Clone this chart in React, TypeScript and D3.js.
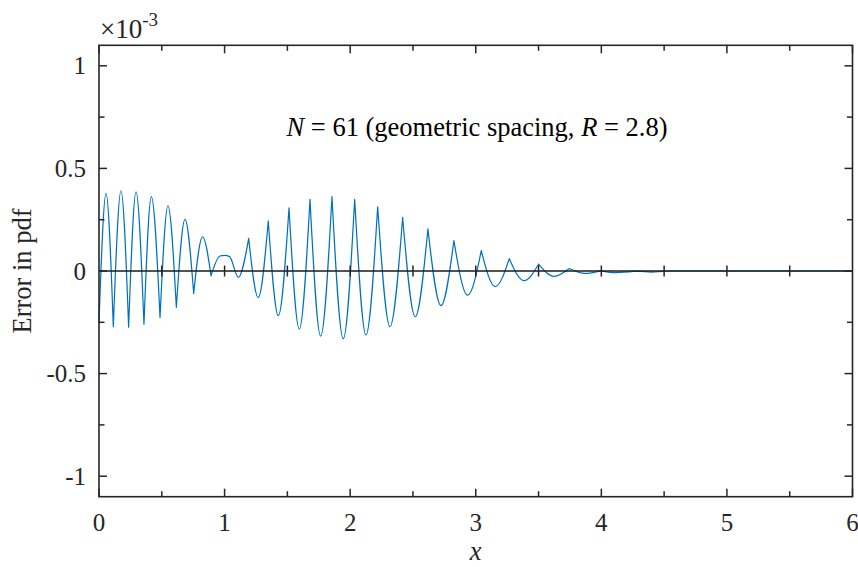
import React from 'react';
import * as d3 from 'd3';

// Axis ticks
const xTicks = [0, 1, 2, 3, 4, 5, 6];
const xMinorTicks = [0.5, 1.5, 2.5, 3.5, 4.5, 5.5];
const yTicks = [-1, -0.5, 0, 0.5, 1];
const yTickLabels = ['-1', '-0.5', '0', '0.5', '1'];
const yMinorTicks = [-0.75, -0.25, 0.25, 0.75];
const zeroLineTicks = [0.5, 1, 1.5, 2, 2.5, 3, 3.5, 4, 4.5, 5, 5.5];

// Error in pdf (units of 1e-3), extrema of the oscillation in order
const errX = [
  0, 0.056, 0.114, 0.175, 0.236, 0.295, 0.358, 0.417, 0.486, 0.549, 0.616,
  0.685, 0.754, 0.825, 0.892, 0.963, 1.0, 1.04, 1.109, 1.192, 1.268, 1.348,
  1.428, 1.513, 1.595, 1.68, 1.765, 1.855, 1.945, 2.036, 2.126, 2.219, 2.317,
  2.418, 2.518, 2.619, 2.723, 2.826, 2.935, 3.044, 3.155, 3.267, 3.384, 3.5,
  3.623, 3.745, 3.869, 3.99, 4.12, 4.27, 4.4, 4.53, 6,
];
const errY = [
  -0.25, 0.378, -0.271, 0.391, -0.274, 0.386, -0.26, 0.362, -0.227, 0.318,
  -0.177, 0.252, -0.109, 0.167, -0.024, 0.073, 0.076, 0.07, -0.031, 0.159,
  -0.13, 0.244, -0.218, 0.308, -0.283, 0.349, -0.317, 0.362, -0.33, 0.349,
  -0.312, 0.313, -0.271, 0.261, -0.223, 0.205, -0.169, 0.148, -0.118, 0.099,
  -0.076, 0.06, -0.047, 0.033, -0.026, 0.012, -0.012, 0.001, -0.008, -0.001,
  -0.005, 0, 0,
];
// Points where the error curve has a corner (kinks of the piecewise interpolant)
const cornerX = [
  0.114, 0.236, 0.358, 0.486, 0.616, 0.754, 0.892, 1.192, 1.348, 1.513, 1.68,
  1.855, 2.036, 2.219, 2.418, 2.619, 2.826, 3.044, 3.267, 3.5, 3.745, 3.99,
  4.27, 4.53,
];

const W = 858;
const H = 567;
const left = 99;
const right = 852.5;
const top = 45.3;
const bottom = 496.7;
const axisColor = '#262626';
const lineColor = '#0072BD';
const font = "'Liberation Serif', 'Times New Roman', Times, serif";

export default function App() {
  const x = d3.scaleLinear().domain([0, 6]).range([left, right]);
  const y = d3.scaleLinear().domain([-1.1, 1.1]).range([bottom, top]);

  // split the series into smooth arcs joined at the corners
  const pts: [number, number][] = errX.map((v, i) => [v, errY[i]]);
  const arcs: [number, number][][] = [];
  let cur: [number, number][] = [];
  pts.forEach((p) => {
    cur.push(p);
    if (cornerX.includes(p[0])) {
      arcs.push(cur);
      cur = [p];
    }
  });
  if (cur.length > 1) arcs.push(cur);

  const line = d3
    .line<[number, number]>()
    .x((d) => x(d[0]))
    .y((d) => y(d[1]))
    .curve(d3.curveMonotoneX);
  const d = arcs.map((a) => line(a)).join('');

  const y0 = y(0);
  const major = 8;
  const minor = 5.5;

  return (
    <svg width={W} height={H} style={{ position: 'absolute', left: 0, top: 0 }}>
      <rect x={0} y={0} width={W} height={H} fill="#fff" />
      <path d={d} fill="none" stroke={lineColor} strokeWidth={1.2} strokeLinejoin="round" strokeLinecap="round" />
      {/* zero reference line with ticks */}
      <line x1={left} x2={right} y1={y0} y2={y0} stroke="#1a1a1a" strokeWidth={1.6} />
      {zeroLineTicks.map((t) => (
        <line key={'z' + t} x1={x(t)} x2={x(t)} y1={y0 - 5.5} y2={y0 + 5.5} stroke={axisColor} strokeWidth={1.5} />
      ))}
      {/* axes box */}
      <rect x={left} y={top} width={right - left} height={bottom - top} fill="none" stroke={axisColor} strokeWidth={1.6} />
      {xTicks.map((t) => (
        <g key={'xt' + t}>
          <line x1={x(t)} x2={x(t)} y1={bottom} y2={bottom - major} stroke={axisColor} strokeWidth={1.5} />
          <line x1={x(t)} x2={x(t)} y1={top} y2={top + major} stroke={axisColor} strokeWidth={1.5} />
          <text x={x(t)} y={531} textAnchor="middle" fontFamily={font} fontSize={25} fill={axisColor}>
            {t}
          </text>
        </g>
      ))}
      {xMinorTicks.map((t) => (
        <g key={'xm' + t}>
          <line x1={x(t)} x2={x(t)} y1={bottom} y2={bottom - minor} stroke={axisColor} strokeWidth={1.5} />
          <line x1={x(t)} x2={x(t)} y1={top} y2={top + minor} stroke={axisColor} strokeWidth={1.5} />
        </g>
      ))}
      {yTicks.map((t, i) => (
        <g key={'yt' + t}>
          <line x1={left} x2={left + major} y1={y(t)} y2={y(t)} stroke={axisColor} strokeWidth={1.5} />
          <line x1={right} x2={right - major} y1={y(t)} y2={y(t)} stroke={axisColor} strokeWidth={1.5} />
          <text x={86} y={y(t) + 8.5} textAnchor="end" fontFamily={font} fontSize={25} fill={axisColor}>
            {yTickLabels[i]}
          </text>
        </g>
      ))}
      {yMinorTicks.map((t) => (
        <g key={'ym' + t}>
          <line x1={left} x2={left + minor} y1={y(t)} y2={y(t)} stroke={axisColor} strokeWidth={1.5} />
          <line x1={right} x2={right - minor} y1={y(t)} y2={y(t)} stroke={axisColor} strokeWidth={1.5} />
        </g>
      ))}
      {/* exponent */}
      <text x={100} y={38} fontFamily={font} fontSize={27} fill={axisColor}>
        ×10
        <tspan fontSize={19} dy={-12}>-3</tspan>
      </text>
      {/* labels */}
      <text
        transform={`translate(31, ${(top + bottom) / 2}) rotate(-90)`}
        textAnchor="middle"
        fontFamily={font}
        fontSize={26.5}
        fill={axisColor}
      >
        Error in pdf
      </text>
      <text x={(left + right) / 2} y={560} textAnchor="middle" fontFamily={font} fontSize={26.5} fontStyle="italic" fill={axisColor}>
        x
      </text>
      <text x={477} y={136} textAnchor="middle" fontFamily={font} fontSize={26.5} fill="#000">
        <tspan fontStyle="italic">N</tspan> = 61 (geometric spacing, <tspan fontStyle="italic">R</tspan> = 2.8)
      </text>
    </svg>
  );
}
